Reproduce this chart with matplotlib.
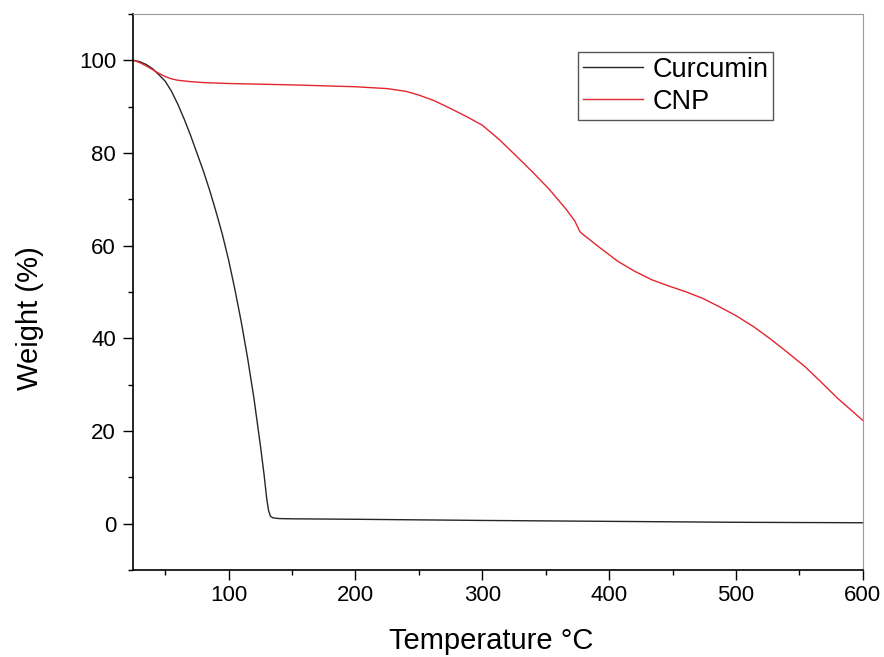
import numpy as np
import matplotlib
matplotlib.use("Agg")
import matplotlib.pyplot as plt
from matplotlib.ticker import MultipleLocator

plt.rcParams["font.family"] = ["Liberation Sans", "DejaVu Sans"]

# TGA curves
curcumin_t = [25, 30, 35, 40, 45, 50, 55, 60, 65, 70, 75, 80, 85, 90, 95, 100,
              105, 110, 115, 120, 125, 128, 130, 131.5, 133, 135, 140, 150,
              200, 300, 400, 500, 600]
curcumin_w = [100, 99.7, 99.1, 98.2, 96.9, 95.5, 93.3, 90.5, 87.3, 83.8, 80.0,
              76.2, 72.0, 67.4, 62.5, 56.9, 50.5, 43.5, 35.7, 27.0, 17.0, 10.5,
              5.5, 2.8, 1.6, 1.25, 1.1, 1.05, 0.95, 0.7, 0.5, 0.3, 0.2]

cnp_t = [25, 30, 35, 40, 45, 50, 55, 60, 70, 80, 100, 150, 200, 225, 240, 250,
         262, 275, 288, 300, 313, 327, 340, 353, 366, 373, 377, 380, 393, 407,
         420, 434, 447, 461, 474, 487, 500, 514, 527, 540, 554, 567, 580, 590, 600]
cnp_w = [100, 99.5, 98.8, 98.0, 97.2, 96.5, 96.0, 95.7, 95.4, 95.2, 95.0, 94.7,
         94.3, 93.9, 93.3, 92.5, 91.3, 89.6, 87.8, 86.0, 83.0, 79.3, 75.8, 72.1,
         67.9, 65.3, 63.0, 62.3, 59.5, 56.6, 54.5, 52.6, 51.3, 50.0, 48.6, 46.8,
         44.9, 42.5, 39.9, 37.1, 34.0, 30.6, 27.1, 24.7, 22.3]

fig = plt.figure(figsize=(8.84, 6.57), dpi=100)
ax = fig.add_axes([0.151, 0.1324, 0.825, 0.8463])

ax.plot(curcumin_t, curcumin_w, color="#262626", linewidth=1.0, label="Curcumin")
ax.plot(cnp_t, cnp_w, color="#e3262e", linewidth=1.0, label="CNP")

ax.set_xlim(25, 600)
ax.set_ylim(-10, 110)
ax.xaxis.set_major_locator(MultipleLocator(100))
ax.xaxis.set_minor_locator(MultipleLocator(50))
ax.yaxis.set_major_locator(MultipleLocator(20))
ax.yaxis.set_minor_locator(MultipleLocator(10))
ax.set_yticks([0, 20, 40, 60, 80, 100])

ax.tick_params(which="major", direction="out", length=7.5, width=1.0,
               labelsize=16, top=False, right=False)
ax.tick_params(which="minor", direction="out", length=3.6, width=1.0,
               top=False, right=False)
ax.tick_params(axis="x", which="major", pad=3)
ax.tick_params(axis="y", which="major", pad=5)

for side in ("top", "right"):
    ax.spines[side].set_color("#9a9a9a")
for side in ("left", "bottom"):
    ax.spines[side].set_linewidth(1.2)

ax.set_xlabel("Temperature °C", fontsize=21)
ax.set_ylabel("Weight (%)", fontsize=21)
ax.xaxis.set_label_coords(0.49, -0.103)
ax.yaxis.set_label_coords(-0.123, 0.453)

leg = ax.legend(loc="upper left", bbox_to_anchor=(0.609, 0.932), borderaxespad=0,
                fontsize=19.5, frameon=True, fancybox=False, framealpha=1,
                edgecolor="#555555", handlelength=2.25, handletextpad=0.33,
                labelspacing=0.22, borderpad=0.18)
leg.get_frame().set_linewidth(1.0)

fig.savefig("out.png", dpi=100)
